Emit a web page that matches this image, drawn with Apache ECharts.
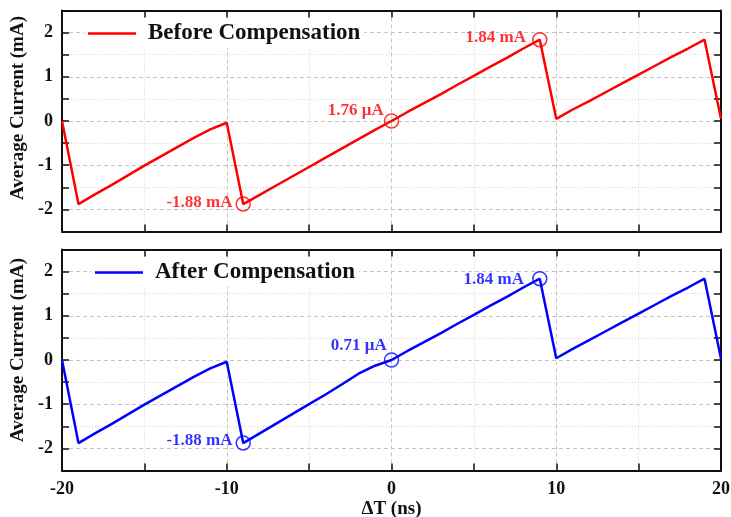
<!DOCTYPE html>
<html>
<head>
<meta charset="utf-8">
<script src="https://cdn.jsdelivr.net/npm/echarts@6/dist/echarts.min.js"></script>
<style>
html,body{margin:0;padding:0;background:#fff;}
#main{width:731px;height:517px;}
</style>
</head>
<body>
<div id="main"></div>
<script>
// delta T (ns)
var xs = [-20,-19,-18,-17,-16,-15,-14,-13,-12,-11,-10,-9,-8,-7,-6,-5,-4,-3,-2,-1,0,1,2,3,4,5,6,7,8,9,10,11,12,13,14,15,16,17,18,19,20];
// average current (mA)
var ysBefore = [0,-1.88,-1.66,-1.45,-1.23,-1.01,-0.80,-0.59,-0.38,-0.19,-0.04,-1.88,-1.67,-1.46,-1.25,-1.04,-0.83,-0.62,-0.41,-0.20,0,0.21,0.41,0.61,0.82,1.02,1.23,1.43,1.64,1.84,0.05,0.26,0.45,0.65,0.85,1.05,1.25,1.45,1.64,1.84,0.05];
var ysAfter = [0,-1.88,-1.66,-1.45,-1.23,-1.01,-0.80,-0.59,-0.38,-0.19,-0.04,-1.88,-1.66,-1.44,-1.22,-1.00,-0.78,-0.55,-0.31,-0.13,0,0.21,0.41,0.61,0.82,1.02,1.23,1.43,1.64,1.84,0.04,0.25,0.45,0.65,0.85,1.05,1.25,1.45,1.64,1.84,0.03];
var markX = [-9,0,9];
var markBefore = [-1.88,0,1.84];
var markAfter = [-1.88,0,1.84];
var textBefore = ['-1.88 mA','1.76 μA','1.84 mA'];
var textAfter = ['-1.88 mA','0.71 μA','1.84 mA'];
var xTicks = [-20,-10,0,10,20];
var yTicks = [-2,-1,0,1,2];

var FONT = "'Liberation Serif', 'Times New Roman', serif";
var myChart = echarts.init(document.getElementById('main'));

function pairs(a, b){
	var out = [];
	for(var i=0;i<a.length;i++) out.push([a[i], b[i]]);
	return out;
}
var CLEAR = 'rgba(0,0,0,0)';
function xAx(grid, pos, showLabel, dashed){
	return {
		type:'value', gridIndex:grid, position:pos, min:-20, max:20, interval:5,
		name: showLabel ? 'ΔT (ns)' : '', nameLocation:'middle', nameGap:28,
		nameTextStyle:{fontFamily:FONT, fontWeight:'bold', fontSize:19, color:'#111'},
		axisLine:{onZero:false, lineStyle:{color:'#111', width:2}},
		axisTick:{inside:true, length:7, lineStyle:{color:'#111', width:1.5}},
		axisLabel:{show:showLabel, margin:10, fontFamily:FONT, fontWeight:'bold', fontSize:18, color:'#111',
			formatter:function(v){ return xTicks.indexOf(v) >= 0 ? String(v) : ''; }},
		splitLine:{show:true, lineStyle: dashed
			? {color:['#c4c4c4',CLEAR], type:[4,3], width:1}
			: {color:[CLEAR,'#d2d2d2'], type:[1,2], width:1}}
	};
}
function yAx(grid, pos, showLabel, dashed, shift){
	return {
		type:'value', gridIndex:grid, position:pos, min:-2.5, max:2.5, interval:0.5,
		name: showLabel ? 'Average Current (mA)' : '', nameLocation:'middle', nameGap:24,
		nameTextStyle:{fontFamily:FONT, fontWeight:'bold', fontSize:19, color:'#111', padding:[0,0,0,shift||0]},
		axisLine:{onZero:false, lineStyle:{color:'#111', width:2}},
		axisTick:{inside:true, length:7, lineStyle:{color:'#111', width:1.5}},
		axisLabel:{show:showLabel, margin:9, fontFamily:FONT, fontWeight:'bold', fontSize:18, color:'#111',
			formatter:function(v){ return yTicks.indexOf(v) >= 0 ? String(v) : ''; }},
		splitLine:{show:true, lineStyle: dashed
			? {color:[CLEAR,'#c4c4c4'], type:[4,3], width:1}
			: {color:['#d2d2d2',CLEAR], type:[1,2], width:1}}
	};
}
function lineSeries(name, ys, color, gi){
	return {
		name:name, type:'line', xAxisIndex:gi, yAxisIndex:gi,
		data:pairs(xs, ys), symbol:'none', smooth:false, z:3,
		lineStyle:{color:color, width:2.5}, itemStyle:{color:color}
	};
}
function markSeries(ys, texts, color, gi, offs){
	var d = [];
	for(var i=0;i<markX.length;i++){
		d.push({value:[markX[i], ys[i]], label:{formatter:texts[i], offset:offs[i]}});
	}
	return {
		type:'scatter', xAxisIndex:gi, yAxisIndex:gi, data:d, z:4,
		symbol:'circle', symbolSize:14,
		itemStyle:{color:'rgba(255,255,255,0)', borderColor:color, borderWidth:1.5},
		label:{show:true, position:'left', distance:3, color:color,
			fontFamily:FONT, fontWeight:'bold', fontSize:17}
	};
}

option = {
	animation:false,
	backgroundColor:'#fff',
	grid:[
		{left:62, right:10, top:10.5, height:221, outerBoundsMode:'none'},
		{left:62, right:10, top:249.5, height:221, outerBoundsMode:'none'}
	],
	xAxis:[
		xAx(0,'bottom',false,true), xAx(0,'top',false,false),
		xAx(1,'bottom',true,true), xAx(1,'top',false,false)
	],
	yAxis:[
		yAx(0,'left',true,true,26), yAx(0,'right',false,false),
		yAx(1,'left',true,true,20), yAx(1,'right',false,false)
	],
	legend:[
		{data:['Before Compensation'], left:84, top:19, backgroundColor:'#fff', padding:[3,4],
			icon:'rect', itemWidth:48, itemHeight:2.5,
			textStyle:{fontFamily:FONT, fontWeight:'bold', fontSize:23, color:'#111', padding:[0,0,0,7]}},
		{data:['After Compensation'], left:91, top:258, backgroundColor:'#fff', padding:[3,4],
			icon:'rect', itemWidth:48, itemHeight:2.5,
			textStyle:{fontFamily:FONT, fontWeight:'bold', fontSize:23, color:'#111', padding:[0,0,0,7]}}
	],
	series:[
		lineSeries('Before Compensation', ysBefore, '#ff0000', 0),
		markSeries(markBefore, textBefore, '#ff0000', 0, [[0,-1],[3,-10],[-3,-2]]),
		lineSeries('After Compensation', ysAfter, '#0000ff', 2),
		markSeries(markAfter, textAfter, '#0000ff', 2, [[0,-2],[6,-14],[-5,1]])
	]
};
myChart.setOption(option, true);
</script>
</body>
</html>
